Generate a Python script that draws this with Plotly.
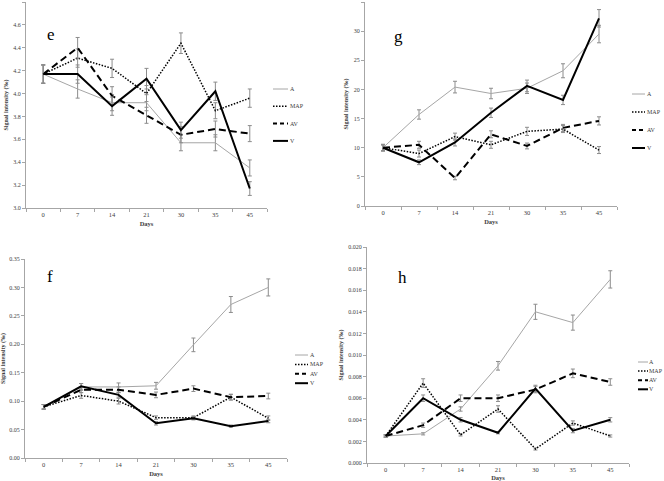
import plotly.graph_objects as go

# 数据：天数与四个处理（A, MAP, AV, V）的信号强度
days = ["0", "7", "14", "21", "30", "35", "45"]
series_names = ["A", "MAP", "AV", "V"]

# e
e_A = [4.17, 4.04, 3.92, 3.92, 3.57, 3.57, 3.35]
e_MAP = [4.17, 4.31, 4.22, 4.00, 4.44, 3.85, 3.96]
e_AV = [4.17, 4.40, 3.98, 3.81, 3.64, 3.69, 3.65]
e_V = [4.17, 4.17, 3.89, 4.13, 3.68, 4.02, 3.17]
e_A_err = [0.08, 0.08, 0.07, 0.07, 0.07, 0.07, 0.07]
e_MAP_err = [0.08, 0.08, 0.08, 0.07, 0.09, 0.07, 0.08]
e_AV_err = [0.08, 0.09, 0.08, 0.07, 0.07, 0.07, 0.07]
e_V_err = [0.08, 0.08, 0.08, 0.09, 0.07, 0.08, 0.06]

# g
g_A = [10.0, 15.7, 20.4, 19.3, 20.2, 23.2, 29.5]
g_MAP = [10.0, 9.0, 11.9, 10.5, 12.8, 13.2, 9.6]
g_AV = [10.0, 10.5, 4.8, 12.3, 10.3, 13.4, 14.6]
g_V = [10.0, 7.5, 10.9, 16.0, 20.6, 18.2, 32.2]
g_A_err = [0.6, 0.8, 1.0, 0.9, 0.9, 1.2, 1.5]
g_MAP_err = [0.5, 0.6, 0.6, 0.6, 0.7, 0.6, 0.6]
g_AV_err = [0.5, 0.6, 0.3, 0.6, 0.5, 0.6, 0.7]
g_V_err = [0.5, 0.4, 0.6, 0.8, 1.0, 0.8, 1.5]

# f
f_A = [0.090, 0.125, 0.125, 0.127, 0.199, 0.270, 0.300]
f_MAP = [0.090, 0.110, 0.100, 0.071, 0.071, 0.107, 0.070]
f_AV = [0.090, 0.120, 0.120, 0.111, 0.122, 0.107, 0.109]
f_V = [0.090, 0.126, 0.111, 0.061, 0.070, 0.056, 0.065]
f_A_err = [0.004, 0.006, 0.007, 0.006, 0.012, 0.014, 0.015]
f_MAP_err = [0.004, 0.005, 0.005, 0.003, 0.003, 0.005, 0.004]
f_AV_err = [0.004, 0.005, 0.005, 0.005, 0.005, 0.005, 0.005]
f_V_err = [0.004, 0.005, 0.004, 0.003, 0.003, 0.002, 0.003]

# h
h_A = [0.0025, 0.0027, 0.0050, 0.0090, 0.0140, 0.0130, 0.0170]
h_MAP = [0.0025, 0.0074, 0.0026, 0.0050, 0.0013, 0.0037, 0.0025]
h_AV = [0.0025, 0.0035, 0.0060, 0.0060, 0.0068, 0.0083, 0.0075]
h_V = [0.0025, 0.0060, 0.0040, 0.0028, 0.0069, 0.0030, 0.0040]
h_A_err = [0.0001, 0.0001, 0.0002, 0.0004, 0.0007, 0.0007, 0.0008]
h_MAP_err = [0.0001, 0.0004, 0.0001, 0.0003, 0.0001, 0.0002, 0.0001]
h_AV_err = [0.0001, 0.0002, 0.0003, 0.0003, 0.0003, 0.0004, 0.0003]
h_V_err = [0.0001, 0.0003, 0.0002, 0.0001, 0.0003, 0.0002, 0.0002]

W, H = 664, 481
FONT = "Liberation Serif"
TXT = "#404040"

styles = {
    "A": dict(color="#a6a6a6", width=1, dash="solid"),
    "MAP": dict(color="black", width=1.5, dash="1.5px,1.5px"),
    "AV": dict(color="black", width=2, dash="7px,4px"),
    "V": dict(color="black", width=2, dash="solid"),
}

panels = [
    # letter, axis suffix, values, errors, y range, dtick, tickformat
    ("e", "", [e_A, e_MAP, e_AV, e_V], [e_A_err, e_MAP_err, e_AV_err, e_V_err], [3.0, 4.8], 0.2, ".1f"),
    ("g", "2", [g_A, g_MAP, g_AV, g_V], [g_A_err, g_MAP_err, g_AV_err, g_V_err], [0, 35], 5, "d"),
    ("f", "3", [f_A, f_MAP, f_AV, f_V], [f_A_err, f_MAP_err, f_AV_err, f_V_err], [0, 0.35], 0.05, ".2f"),
    ("h", "4", [h_A, h_MAP, h_AV, h_V], [h_A_err, h_MAP_err, h_AV_err, h_V_err], [0, 0.020], 0.002, ".3f"),
]

# 像素位置（左上角为原点）：x轴左右端、y轴上下端
boxes = {
    "e": (26, 267, 2, 208),
    "g": (365, 617, 2, 206),
    "f": (25, 287, 259, 458),
    "h": (367, 629, 247, 463),
}
letter_pos = {"e": (45, 23), "g": (398, 25), "f": (45, 276), "h": (402, 277)}
# 图例：线段起点、终点、文字起点、第一项y、间距
legend_pos = {
    "e": (273, 288, 289, 89, 17.3),
    "g": (632, 645, 646, 94, 18),
    "f": (295, 308, 309, 355, 9.4),
    "h": (638, 648, 648, 362, 9.1),
}


def px(x):
    return x / W


def py(y):
    return 1 - y / H


fig = go.Figure()
layout = dict(
    width=W, height=H,
    margin=dict(l=0, r=0, t=0, b=0),
    paper_bgcolor="white", plot_bgcolor="white",
    showlegend=False,
    font=dict(family=FONT, size=6, color=TXT),
)
shapes = []
annotations = []

for letter, sfx, vals, errs, yr, dt, fmt in panels:
    for name, v, er in zip(series_names, vals, errs):
        st = styles[name]
        fig.add_trace(go.Scatter(
            x=days, y=v, name=name, mode="lines",
            line=dict(color=st["color"], width=st["width"], dash=st["dash"]),
            error_y=dict(type="data", array=er, color="#8c8c8c", thickness=1, width=2),
            xaxis="x" + sfx, yaxis="y" + sfx,
        ))

    x0, x1, y0, y1 = boxes[letter]
    layout["xaxis" + sfx] = dict(
        domain=[px(x0), px(x1)], anchor="y" + sfx, automargin=False,
        type="category", range=[-0.5, 6.5],
        showline=True, linecolor="#a6a6a6", linewidth=1,
        ticks="outside", tickson="boundaries", ticklen=3, tickcolor="#a6a6a6",
        showgrid=False, zeroline=False,
        tickfont=dict(family=FONT, size=6.5, color=TXT),
        title=dict(text="<b>Days</b>", font=dict(family=FONT, size=6.5, color=TXT), standoff=4),
    )
    layout["yaxis" + sfx] = dict(
        domain=[py(y1), py(y0)], anchor="x" + sfx, automargin=False,
        range=yr, dtick=dt, tick0=0, tickformat=fmt,
        showline=True, linecolor="#a6a6a6", linewidth=1,
        ticks="outside", ticklen=3, tickcolor="#a6a6a6",
        showgrid=False, zeroline=False,
        tickfont=dict(family=FONT, size=6, color=TXT),
        title=dict(text="<b>Signal intensity (‰)</b>", font=dict(family=FONT, size=6, color=TXT), standoff=4),
    )

    lx, ly = letter_pos[letter]
    annotations.append(dict(
        text=letter, x=px(lx), y=py(ly), xref="paper", yref="paper",
        showarrow=False, font=dict(family=FONT, size=17, color="black"),
    ))

    # 手工图例
    lx0, lx1, tx, ly0, step = legend_pos[letter]
    for i, name in enumerate(series_names):
        st = styles[name]
        yy = py(ly0 + i * step)
        shapes.append(dict(
            type="line", xref="paper", yref="paper",
            x0=px(lx0), x1=px(lx1), y0=yy, y1=yy,
            line=dict(color=st["color"], width=st["width"],
                      dash="4px,3px" if name == "AV" else st["dash"]),
        ))
        annotations.append(dict(
            text=name, x=px(tx), y=yy, xref="paper", yref="paper",
            xanchor="left", yanchor="middle", showarrow=False, borderpad=0,
            font=dict(family=FONT, size=6, color=TXT),
        ))

layout["shapes"] = shapes
layout["annotations"] = annotations
fig.update_layout(**layout)

# 去掉页面默认的 8px 边距，隐藏工具栏
fig.write_html("out.html", config={"displayModeBar": False},
               post_script="document.body.style.margin='0px';")
